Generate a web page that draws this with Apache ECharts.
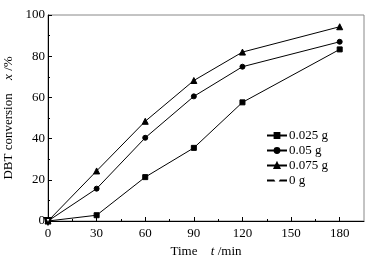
<!DOCTYPE html>
<html>
<head>
<meta charset="utf-8">
<script src="https://cdn.jsdelivr.net/npm/echarts@6/dist/echarts.min.js"></script>
<style>
  html, body { margin: 0; padding: 0; background: #fff; }
  #chart { width: 381px; height: 264px; }
</style>
</head>
<body>
<div id="chart"></div>
<script>
// 数据
const times = [0, 30, 60, 90, 120, 180];
const s025 = [0, 2.8, 21.3, 35.5, 57.6, 83.3];
const s05 = [0, 15.7, 40.4, 60.5, 74.9, 87.0];
const s075 = [0, 24.3, 48.4, 68.2, 82.0, 94.3];
const s0 = [0];
const seriesNames = ['0.025 g', '0.05 g', '0.075 g', '0 g'];
const xTicks = [0, 30, 60, 90, 120, 150, 180];

const font = 'Liberation Serif';
const chart = echarts.init(document.getElementById('chart'));

function pairs(vals) {
  return vals.map((v, i) => [times[i], v]);
}

function line(name, vals, symbol, size, rotate) {
  return {
    name: name,
    type: 'line',
    data: pairs(vals),
    symbol: symbol,
    symbolSize: size,
    symbolRotate: rotate || 0,
    showAllSymbol: true,
    lineStyle: { color: '#000', width: 1 },
    itemStyle: { color: '#000', borderColor: '#000', borderWidth: 1 }
  };
}

// 坐标轴样式
const axisLine = { lineStyle: { color: '#000', width: 1 } };
const axisLabel = { color: '#000', fontFamily: font, fontSize: 13 };
const nameRich = {
  a: { fontFamily: font, fontSize: 13, color: '#000' },
  b: { fontFamily: font, fontSize: 13, color: '#000', fontStyle: 'italic' }
};

const option = {
  animation: false,
  grid: {
    left: 48,
    right: 17,
    top: 15,
    bottom: 43,
    outerBoundsMode: 'none',
    containLabel: false,
    show: true,
    borderColor: '#888',
    borderWidth: 1
  },
  legend: {
    data: [
      { name: seriesNames[0] },
      { name: seriesNames[1] },
      { name: seriesNames[2] },
      // 空心倒三角
      { name: seriesNames[3], itemStyle: { color: '#fff', borderColor: '#000', borderWidth: 1 } }
    ],
    orient: 'vertical',
    left: 266,
    top: 129,
    padding: 0,
    itemWidth: 20,
    itemHeight: 6,
    itemGap: 2,
    textStyle: { color: '#000', fontFamily: font, fontSize: 13, padding: [0, 0, 0, -3] }
  },
  xAxis: {
    type: 'value',
    min: 0,
    max: 195,
    interval: 30,
    axisLine: axisLine,
    axisTick: { inside: true, length: 4, lineStyle: { color: '#000' }, customValues: xTicks },
    minorTick: { show: true, splitNumber: 2, length: 2, lineStyle: { color: '#000' } },
    axisLabel: Object.assign({ margin: 6, customValues: xTicks }, axisLabel),
    splitLine: { show: false },
    name: '{a|Time}    {b|t} {a|/min}',
    nameLocation: 'middle',
    nameGap: 23,
    nameTextStyle: { rich: nameRich }
  },
  yAxis: {
    type: 'value',
    min: 0,
    max: 100,
    interval: 20,
    axisLine: axisLine,
    axisTick: { inside: true, length: 4, lineStyle: { color: '#000' } },
    minorTick: { show: true, splitNumber: 2, length: 2, lineStyle: { color: '#000' } },
    axisLabel: Object.assign({ margin: 3 }, axisLabel),
    splitLine: { show: false },
    name: '{a|DBT conversion}    {b|x} {a|/%}',
    nameLocation: 'middle',
    nameGap: 28,
    nameTextStyle: { rich: nameRich }
  },
  series: [
    line(seriesNames[0], s025, 'rect', 5),
    line(seriesNames[1], s05, 'circle', 5),
    line(seriesNames[2], s075, 'triangle', 6),
    line(seriesNames[3], s0, 'emptyTriangle', 6, 180)
  ]
};

chart.setOption(option);
</script>
</body>
</html>
